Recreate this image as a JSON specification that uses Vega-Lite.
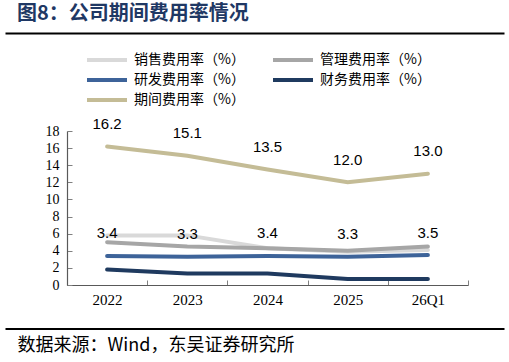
{
  "$schema": "https://vega.github.io/schema/vega-lite/v6.json",
  "width": 401,
  "height": 154,
  "autosize": {"type": "none"},
  "padding": {"left": 67, "top": 131, "right": 41, "bottom": 77},
  "background": "white",
  "title": {"text": "图8：公司期间费用率情况", "anchor": "start", "frame": "group", "dx": -50, "dy": 20, "offset": 9, "baseline": "bottom", "font": "Noto Sans CJK SC", "fontSize": 20, "fontWeight": "bold", "color": "#1f3864"},
  "config": {"view": {"stroke": null}, "font": "Noto Sans CJK SC", "axis": {"domain": true, "domainColor": "#595959", "domainWidth": 1.2, "ticks": true, "tickColor": "#808080"}},
  "data": {"values": [
    {"period": "2022", "series": "销售费用率（%）", "value": 5.8},
    {"period": "2023", "series": "销售费用率（%）", "value": 5.8},
    {"period": "2024", "series": "销售费用率（%）", "value": 4.3},
    {"period": "2025", "series": "销售费用率（%）", "value": 3.9},
    {"period": "26Q1", "series": "销售费用率（%）", "value": 4.1},
    {"period": "2022", "series": "管理费用率（%）", "value": 5.0},
    {"period": "2023", "series": "管理费用率（%）", "value": 4.5},
    {"period": "2024", "series": "管理费用率（%）", "value": 4.3},
    {"period": "2025", "series": "管理费用率（%）", "value": 4.0},
    {"period": "26Q1", "series": "管理费用率（%）", "value": 4.5},
    {"period": "2022", "series": "研发费用率（%）", "value": 3.4},
    {"period": "2023", "series": "研发费用率（%）", "value": 3.3},
    {"period": "2024", "series": "研发费用率（%）", "value": 3.4},
    {"period": "2025", "series": "研发费用率（%）", "value": 3.3},
    {"period": "26Q1", "series": "研发费用率（%）", "value": 3.5},
    {"period": "2022", "series": "财务费用率（%）", "value": 1.8},
    {"period": "2023", "series": "财务费用率（%）", "value": 1.35},
    {"period": "2024", "series": "财务费用率（%）", "value": 1.35},
    {"period": "2025", "series": "财务费用率（%）", "value": 0.7},
    {"period": "26Q1", "series": "财务费用率（%）", "value": 0.7},
    {"period": "2022", "series": "期间费用率（%）", "value": 16.2},
    {"period": "2023", "series": "期间费用率（%）", "value": 15.1},
    {"period": "2024", "series": "期间费用率（%）", "value": 13.5},
    {"period": "2025", "series": "期间费用率（%）", "value": 12.0},
    {"period": "26Q1", "series": "期间费用率（%）", "value": 13.0}
  ]},
  "resolve": {"scale": {"x": "independent"}, "axis": {"x": "independent"}},
  "layer": [
    {
      "mark": {"type": "point", "opacity": 0},
      "encoding": {
        "x": {"field": "value", "type": "quantitative", "scale": {"range": [-62, 437]},
          "axis": {"orient": "top", "offset": 98, "domain": true, "domainColor": "#000000", "domainWidth": 2, "ticks": false, "labels": false, "grid": false, "title": null}}
      }
    },
    {
      "mark": {"type": "point", "opacity": 0},
      "encoding": {
        "x": {"field": "value", "type": "quantitative", "scale": {"range": [-62, 437]},
          "axis": {"orient": "bottom", "offset": 43.5, "domain": true, "domainColor": "#000000", "domainWidth": 2, "ticks": false, "labels": false, "grid": false,
            "title": "数据来源：Wind，东吴证券研究所", "titleX": -50, "titleY": 16.5, "titleAlign": "left", "titleAnchor": null, "titleBaseline": "middle", "titleFont": "Noto Sans CJK SC", "titleFontSize": 18, "titleFontWeight": "normal", "titleColor": "#000000"}}
      }
    },
    {
      "encoding": {
        "x": {"field": "period", "type": "ordinal", "sort": ["2022", "2023", "2024", "2025", "26Q1"], "bandPosition": 0.5,
          "scale": {"type": "band", "paddingInner": 0, "paddingOuter": 0},
          "axis": {"title": null, "labelAngle": 0, "tickSize": -5, "tickBand": "extent", "labelFont": "Liberation Serif", "labelFontSize": 15, "labelColor": "#000000", "labelPadding": 12, "grid": false}},
        "y": {"field": "value", "type": "quantitative", "scale": {"domain": [0, 18]},
          "axis": {"title": null, "values": [0, 2, 4, 6, 8, 10, 12, 14, 16, 18], "labelOverlap": false, "tickSize": -5, "labelFont": "Liberation Serif", "labelFontSize": 14, "labelColor": "#000000", "labelPadding": 13, "grid": false}}
      },
      "layer": [
        {
          "mark": {"type": "line", "strokeWidth": 4, "strokeCap": "round"},
          "encoding": {
            "color": {"field": "series", "type": "nominal",
              "scale": {"domain": ["销售费用率（%）", "管理费用率（%）", "研发费用率（%）", "财务费用率（%）", "期间费用率（%）"], "range": ["#D9D9D9", "#A6A6A6", "#3D6399", "#1F3A5F", "#C4BC96"]},
              "legend": {"title": null, "orient": "none", "legendX": 18, "legendY": -81, "direction": "horizontal", "columns": 2, "symbolType": "stroke", "symbolSize": 1600, "symbolStrokeWidth": 4, "labelFont": "Noto Sans CJK SC", "labelFontSize": 14, "labelColor": "#000000", "columnPadding": 26, "rowPadding": 0, "clipHeight": 20, "labelOffset": 5, "padding": 0}}
          }
        },
        {
          "transform": [{"filter": "datum.series === '期间费用率（%）' || datum.series === '研发费用率（%）'"}],
          "mark": {"type": "text", "dy": -22.5, "font": "Liberation Sans", "fontSize": 15, "color": "#000000", "baseline": "middle"},
          "encoding": {
            "text": {"field": "value", "type": "quantitative", "format": ".1f"}
          }
        }
      ]
    }
  ]
}
